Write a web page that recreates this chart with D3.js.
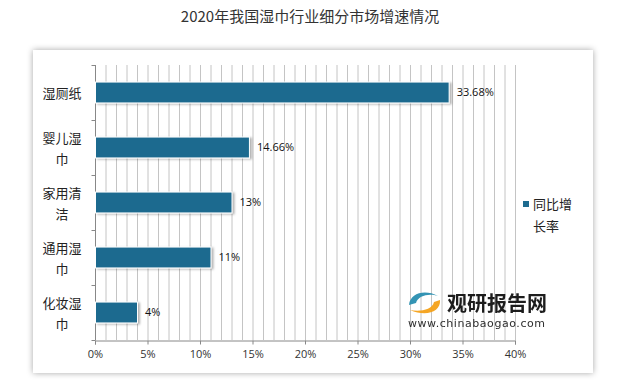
<!DOCTYPE html>
<html>
<head>
<meta charset="utf-8">
<script src="https://cdn.jsdelivr.net/npm/d3@7"></script>
<style>
body { margin: 0; background: #fff; }
text { font-family: "Microsoft YaHei", "Noto Sans CJK SC", sans-serif; }
</style>
</head>
<body>
<div id="root"></div>
<script>
var categories = ["湿厕纸", "婴儿湿巾", "家用清洁", "通用湿巾", "化妆湿巾"];
var values = [33.68, 14.66, 13, 11, 4];
var valueLabels = ["33.68%", "14.66%", "13%", "11%", "4%"];
var xTicks = [0, 5, 10, 15, 20, 25, 30, 35, 40];
var seriesName = ["同比增", "长率"];
var title = "2020年我国湿巾行业细分市场增速情况";

var width = 621, height = 389;
var svg = d3.select("#root").append("svg")
    .attr("width", width)
    .attr("height", height);

var defs = svg.append("defs");
var f = defs.append("filter").attr("id", "panelShadow")
    .attr("x", "-5%").attr("y", "-5%").attr("width", "110%").attr("height", "112%");
f.append("feDropShadow").attr("dx", 0).attr("dy", 0).attr("stdDeviation", 3)
    .attr("flood-color", "#000").attr("flood-opacity", 0.35);
var fb = defs.append("filter").attr("id", "barShadow")
    .attr("x", "-10%").attr("y", "-30%").attr("width", "120%").attr("height", "160%");
fb.append("feDropShadow").attr("dx", 2).attr("dy", 1).attr("stdDeviation", 1)
    .attr("flood-color", "#000").attr("flood-opacity", 0.3);

svg.append("text")
    .attr("x", 310).attr("y", 22)
    .attr("text-anchor", "middle")
    .attr("font-size", 15)
    .attr("fill", "#333")
    .text(title);

// panel
svg.append("rect")
    .attr("x", 33).attr("y", 50)
    .attr("width", 560).attr("height", 323)
    .attr("fill", "#fff")
    .attr("filter", "url(#panelShadow)");

var margin = {left: 95, top: 65, right: 515, bottom: 340};

var x = d3.scaleLinear().domain([0, 40]).range([margin.left, margin.right]);
var y = d3.scaleBand().domain(categories).range([margin.top, margin.bottom])
    .paddingInner(0.62).paddingOuter(0.31);
var yb = d3.scaleBand().domain(categories).range([margin.top, margin.bottom]);

var chart = svg.append("g");

// grid lines every 1%
chart.append("g")
    .selectAll("line")
    .data(d3.range(1, 41))
    .enter()
    .append("line")
    .attr("x1", function(d) { return x(d) + 0.5; })
    .attr("x2", function(d) { return x(d) + 0.5; })
    .attr("y1", margin.top)
    .attr("y2", margin.bottom)
    .attr("stroke", "#c4c4c4")
    .attr("stroke-width", 1);

// x axis
var xAxis = chart.append("g")
    .attr("transform", "translate(0," + (margin.bottom + 0.5) + ")")
    .call(d3.axisBottom(x).tickValues(xTicks).tickSize(4).tickPadding(6)
        .tickFormat(function(d) { return d + "%"; }));
xAxis.select(".domain").attr("stroke", "#888");
xAxis.selectAll(".tick line").attr("stroke", "#888");
xAxis.selectAll("text").attr("font-size", 11).attr("fill", "#333")
    .style("font-family", "'Open Sans', 'Noto Sans', sans-serif");

// y axis
var yAxis = chart.append("g")
    .attr("transform", "translate(" + (margin.left + 0.5) + ",0)");
yAxis.append("line")
    .attr("y1", margin.top).attr("y2", margin.bottom)
    .attr("stroke", "#888");
yAxis.selectAll("line.t")
    .data(d3.range(categories.length + 1))
    .enter()
    .append("line")
    .attr("class", "t")
    .attr("x1", -4).attr("x2", 0)
    .attr("y1", function(i) { return margin.top + i * yb.step() + 0.5; })
    .attr("y2", function(i) { return margin.top + i * yb.step() + 0.5; })
    .attr("stroke", "#888");

// category labels, wrapped 3 chars per line
categories.forEach(function(c) {
    var lines = [];
    for (var i = 0; i < c.length; i += 3) lines.push(c.slice(i, i + 3));
    var cy = yb(c) + yb.bandwidth() / 2 + 1;
    var lh = 21;
    lines.forEach(function(l, i) {
        chart.append("text")
            .attr("x", 62)
            .attr("y", cy + (i - (lines.length - 1) / 2) * lh)
            .attr("dy", "0.35em")
            .attr("text-anchor", "middle")
            .attr("font-size", 13)
            .attr("fill", "#222")
            .text(l);
    });
});

// bars
chart.append("g")
    .selectAll("rect")
    .data(values)
    .enter()
    .append("rect")
    .attr("x", x(0) + 0.5)
    .attr("y", function(d, i) { return y(categories[i]); })
    .attr("width", function(d) { return x(d) - x(0); })
    .attr("height", y.bandwidth())
    .attr("fill", "#1d6b8f")
    .attr("stroke", "#fff")
    .attr("stroke-width", 1)
    .attr("filter", "url(#barShadow)");

chart.append("g")
    .selectAll("text")
    .data(values)
    .enter()
    .append("text")
    .attr("x", function(d) { return x(d) + 8; })
    .attr("y", function(d, i) { return y(categories[i]) + y.bandwidth() / 2; })
    .attr("dy", "0.35em")
    .attr("font-size", 11)
    .attr("fill", "#111")
    .style("font-family", "'Open Sans', 'Noto Sans', sans-serif")
    .text(function(d, i) { return valueLabels[i]; });

// legend
var legend = svg.append("g");
legend.append("rect")
    .attr("x", 523).attr("y", 201)
    .attr("width", 6).attr("height", 6)
    .attr("fill", "#1d6b8f");
seriesName.forEach(function(s, i) {
    legend.append("text")
        .attr("x", 533).attr("y", 204 + i * 22.5)
        .attr("dy", "0.35em")
        .attr("font-size", 13)
        .attr("fill", "#222")
        .text(s);
});

// watermark
var wm = svg.append("g").attr("opacity", 0.95);
wm.append("path")
    .attr("d", "M409,305 C410,293 425,289 438,296 C430,293 418,295 416,303 Z")
    .attr("fill", "#2a8fb0");
wm.append("path")
    .attr("d", "M440,300 C441,312 426,317 410,310 C420,312 432,310 434,302 Z")
    .attr("fill", "#f5a21a");
wm.append("text")
    .attr("x", 447).attr("y", 311)
    .attr("font-size", 20)
    .attr("font-weight", "bold")
    .attr("fill", "#111")
    .text("观研报告网");
wm.append("text")
    .attr("x", 408).attr("y", 327)
    .attr("font-size", 11)
    .attr("fill", "#222")
    .attr("textLength", 137)
    .style("font-family", "'DejaVu Sans', sans-serif")
    .text("www.chinabaogao.com");
</script>
</body>
</html>
